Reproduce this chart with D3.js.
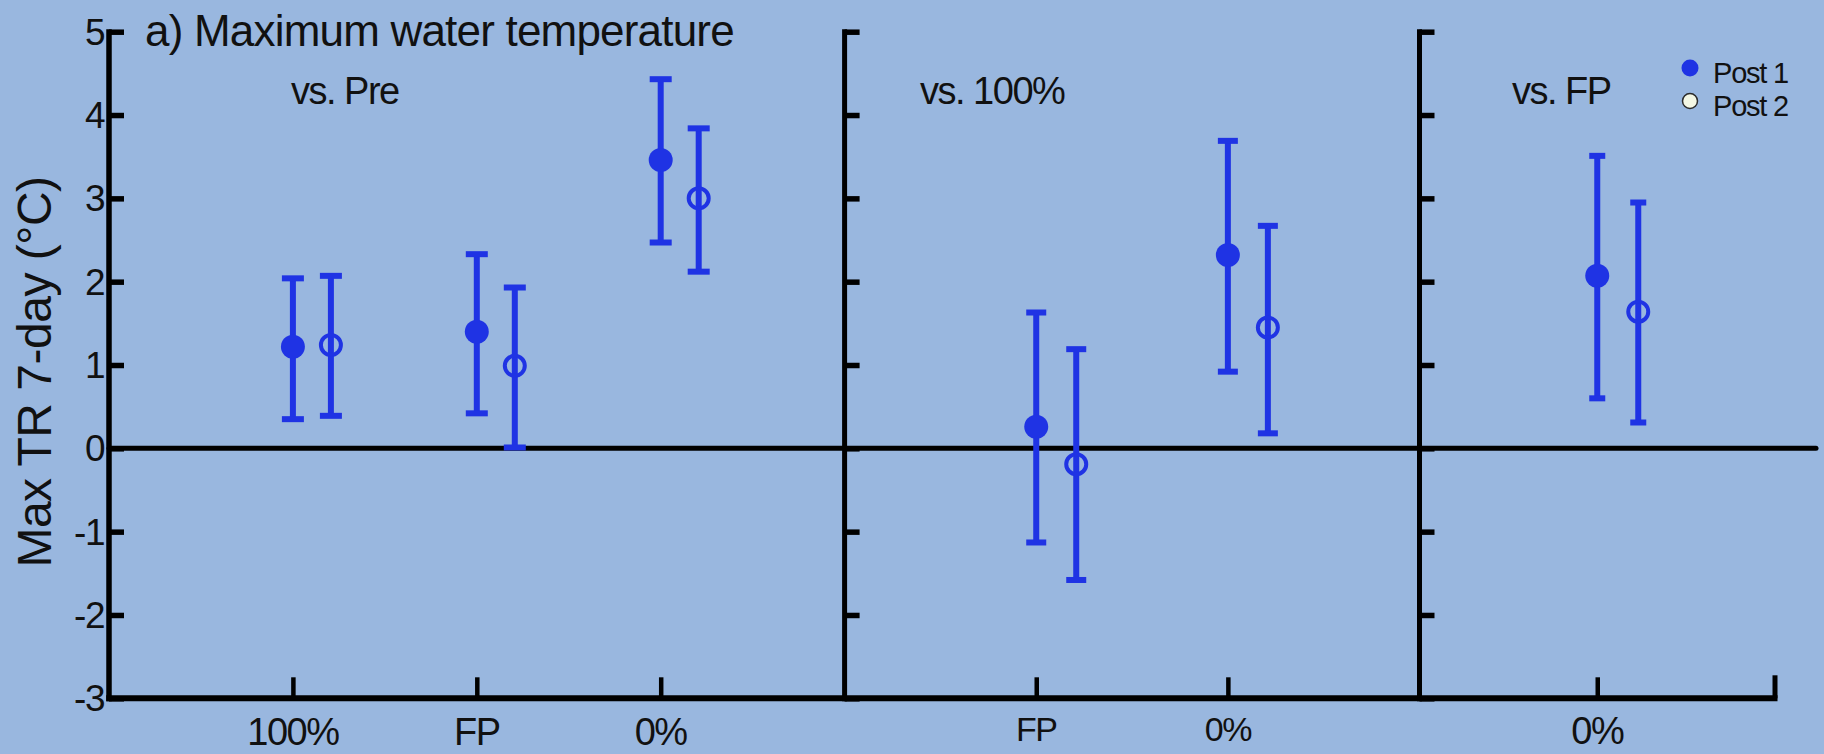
<!DOCTYPE html>
<html>
<head>
<meta charset="utf-8">
<script src="https://cdn.jsdelivr.net/npm/d3@7"></script>
<style>
  html, body { margin: 0; padding: 0; background: #99b7df; }
  svg { display: block; }
  text { font-family: "Liberation Sans", Arial, sans-serif; fill: #111; }
</style>
</head>
<body>
<svg id="chart" width="1824" height="754"></svg>
<script>
// Comparison panels and the treatment categories plotted in each one
const panelTitles = ["vs. Pre", "vs. 100%", "vs. FP"];
const categories = [["100%", "FP", "0%"], ["FP", "0%"], ["0%"]];

// Post 1 period: mean difference and interval bounds (°C)
const post1Mean = [[1.22, 1.40, 3.46], [0.26, 2.32], [2.07]];
const post1Low  = [[0.35, 0.42, 2.47], [-1.13, 0.92], [0.60]];
const post1High = [[2.04, 2.33, 4.43], [1.63, 3.69], [3.51]];

// Post 2 period: mean difference and interval bounds (°C)
const post2Mean = [[1.24, 0.99, 3.00], [-0.19, 1.45], [1.64]];
const post2Low  = [[0.39, 0.01, 2.12], [-1.58, 0.18], [0.31]];
const post2High = [[2.07, 1.93, 3.84], [1.19, 2.67], [2.95]];

const yTickValues = [-3, -2, -1, 0, 1, 2, 3, 4, 5];
const seriesNames = ["Post 1", "Post 2"];

const blue = "#1f33e4";
const svg = d3.select("#chart");
const W = 1824, H = 754;

svg.append("rect").attr("width", W).attr("height", H).attr("fill", "#99b7df");

// Shared vertical scale
const y = d3.scaleLinear().domain([-3, 5]).range([698.3, 31.7]);

// Horizontal extent of each panel (pixels) and per-panel styling
const panelExtent = [[109, 844.6], [844.6, 1419.5], [1419.5, 1775]];
const dodge = [38, 40, 41];
const capHalf = [11, 10, 8];
const tickFont = [38, 34, 38];
const tickBaseline = [745, 741, 744];

const xScales = categories.map((cats, i) =>
  d3.scaleLinear().domain([0, cats.length + 1]).range(panelExtent[i]));

const g = svg.append("g");

// Vertical axes (one per panel) with inward ticks
panelExtent.forEach((ext, i) => {
  const ax = g.append("g").attr("transform", `translate(${ext[0]},0)`);
  const axis = d3.axisRight(y).tickValues(yTickValues).tickSize(15).tickFormat("");
  ax.call(axis);
  ax.select(".domain").remove();
  ax.selectAll(".tick line").attr("stroke", "#000").attr("stroke-width", 5.5);
  ax.append("line")
    .attr("x1", 0).attr("x2", 0)
    .attr("y1", y(5) - 2.5).attr("y2", y(-3) + 3)
    .attr("stroke", "#000").attr("stroke-width", i === 0 ? 5.5 : 5);
});

// Y tick labels on the first panel
g.append("g").selectAll("text")
  .data(yTickValues)
  .join("text")
  .attr("x", panelExtent[0][0] - 5)
  .attr("y", d => y(d) + 13)
  .attr("text-anchor", "end")
  .attr("font-size", 37)
  .attr("letter-spacing", -1.5)
  .text(d => d);

// Bottom axis line with up-pointing category ticks
g.append("line")
  .attr("x1", panelExtent[0][0] - 2.75).attr("x2", panelExtent[2][1] + 2.5)
  .attr("y1", y(-3)).attr("y2", y(-3))
  .attr("stroke", "#000").attr("stroke-width", 6);

categories.forEach((cats, i) => {
  const xs = xScales[i];
  const ax = g.append("g").attr("transform", `translate(0,${y(-3)})`);
  const axis = d3.axisTop(xs).tickValues(d3.range(1, cats.length + 1))
    .tickSize(21).tickFormat("");
  ax.call(axis);
  ax.select(".domain").remove();
  ax.selectAll(".tick line").attr("stroke", "#000").attr("stroke-width", 4.5);

  g.append("g").selectAll("text")
    .data(cats)
    .join("text")
    .attr("x", (d, k) => xs(k + 1))
    .attr("y", tickBaseline[i])
    .attr("text-anchor", "middle")
    .attr("font-size", tickFont[i])
    .attr("letter-spacing", -1.5)
    .text(d => d);
});

// Closing tick at the right end of the bottom axis
g.append("line")
  .attr("x1", xScales[2](2)).attr("x2", xScales[2](2))
  .attr("y1", y(-3)).attr("y2", y(-3) - 23)
  .attr("stroke", "#000").attr("stroke-width", 5);

// Zero reference line
g.append("line")
  .attr("x1", panelExtent[0][0]).attr("x2", 1816)
  .attr("y1", y(0)).attr("y2", y(0))
  .attr("stroke", "#000").attr("stroke-width", 5)
  .attr("stroke-linecap", "round");

// Error bars and markers
const series = [
  { mean: post1Mean, low: post1Low, high: post1High, filled: true,  shift: 0 },
  { mean: post2Mean, low: post2Low, high: post2High, filled: false, shift: 1 }
];

categories.forEach((cats, i) => {
  const xs = xScales[i];
  series.forEach(s => {
    const rows = cats.map((c, k) => ({
      x: xs(k + 1) + s.shift * dodge[i],
      m: s.mean[i][k], lo: s.low[i][k], hi: s.high[i][k]
    }));
    const sg = g.append("g");
    sg.selectAll("line.bar").data(rows).join("line").attr("class", "bar")
      .attr("x1", d => d.x).attr("x2", d => d.x)
      .attr("y1", d => y(d.hi)).attr("y2", d => y(d.lo))
      .attr("stroke", blue).attr("stroke-width", 6);
    sg.selectAll("rect.capHi").data(rows).join("rect").attr("class", "capHi")
      .attr("x", d => d.x - capHalf[i]).attr("y", d => y(d.hi) - 3)
      .attr("width", capHalf[i] * 2).attr("height", 6)
      .attr("fill", blue);
    sg.selectAll("rect.capLo").data(rows).join("rect").attr("class", "capLo")
      .attr("x", d => d.x - capHalf[i]).attr("y", d => y(d.lo) - 3)
      .attr("width", capHalf[i] * 2).attr("height", 6)
      .attr("fill", blue);
    sg.selectAll("circle").data(rows).join("circle")
      .attr("cx", d => d.x).attr("cy", d => y(d.m))
      .attr("r", s.filled ? 12 : 10)
      .attr("fill", s.filled ? blue : "none")
      .attr("stroke", blue)
      .attr("stroke-width", s.filled ? 0 : 4);
  });
});

// Panel labels
const panelLabelX = [291, 920, 1512];
svg.append("g").selectAll("text")
  .data(panelTitles)
  .join("text")
  .attr("x", (d, i) => panelLabelX[i])
  .attr("y", 104)
  .attr("font-size", 38)
  .attr("letter-spacing", -1.5)
  .text(d => d);

// Title
svg.append("text")
  .attr("x", 145).attr("y", 46)
  .attr("font-size", 44)
  .attr("letter-spacing", -0.8)
  .text("a) Maximum water temperature");

// Y axis title
svg.append("text")
  .attr("transform", "translate(51,372) rotate(-90)")
  .attr("text-anchor", "middle")
  .attr("font-size", 48)
  .attr("letter-spacing", -0.5)
  .text("Max TR 7-day (°C)");

// Legend
const legend = svg.append("g");
const legendY = [68, 101];
legend.selectAll("circle").data(seriesNames).join("circle")
  .attr("cx", 1690).attr("cy", (d, i) => legendY[i])
  .attr("r", (d, i) => i === 0 ? 8.5 : 7.5)
  .attr("fill", (d, i) => i === 0 ? blue : "#f4f7e4")
  .attr("stroke", (d, i) => i === 0 ? "none" : "#2b2b2b")
  .attr("stroke-width", 1.5);
legend.selectAll("text").data(seriesNames).join("text")
  .attr("x", 1713).attr("y", (d, i) => legendY[i] + 15)
  .attr("font-size", 29)
  .attr("letter-spacing", -1.2)
  .text(d => d);
</script>
</body>
</html>
